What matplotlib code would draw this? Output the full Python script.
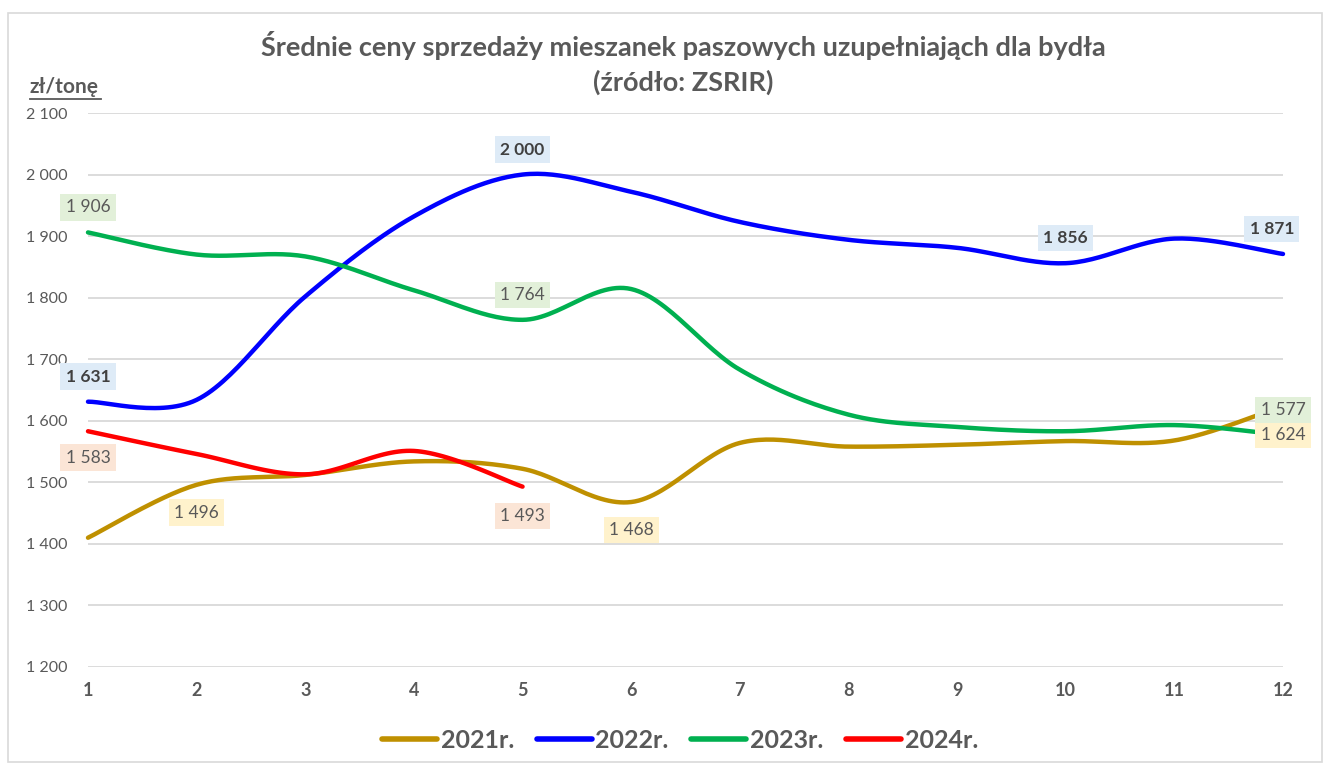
import numpy as np
import matplotlib
matplotlib.use("Agg")
import matplotlib.pyplot as plt
from matplotlib.lines import Line2D
from matplotlib.patches import Rectangle

months = list(range(1, 13))
y2021 = [1410, 1496, 1512, 1534, 1522, 1468, 1564, 1558, 1561, 1567, 1568, 1624]
y2022 = [1631, 1634, 1802, 1932, 2000, 1972, 1923, 1894, 1881, 1856, 1896, 1871]
y2023 = [1906, 1870, 1867, 1812, 1764, 1814, 1683, 1610, 1590, 1583, 1593, 1577]
y2024 = [1583, 1546, 1513, 1551, 1493]
series_names = ["2021r.", "2022r.", "2023r.", "2024r."]
yticks = list(range(1200, 2101, 100))

colors = ["#BF9000", "#0000FF", "#00B050", "#FF0000"]
box_colors = ["#FFF2CC", "#DEEBF7", "#E2F0D9", "#FBE5D6"]

FONT = ["Lato", "DejaVu Sans"]
plt.rcParams['font.family'] = FONT
GRAY = "#595959"


def smooth(xs, ys, n=30):
    xs = np.asarray(xs, float)
    ys = np.asarray(ys, float)
    P = np.column_stack([xs, ys])
    m = len(P)
    out = [P[0]]
    for i in range(m - 1):
        p0 = P[i - 1] if i > 0 else P[i]
        p1 = P[i]
        p2 = P[i + 1]
        p3 = P[i + 2] if i + 2 < m else P[i + 1]
        c1 = p1 + (p2 - p0) / 6.0
        c2 = p2 - (p3 - p1) / 6.0
        t = np.linspace(0, 1, n)[1:, None]
        seg = ((1 - t) ** 3) * p1 + 3 * ((1 - t) ** 2) * t * c1 + 3 * (1 - t) * t ** 2 * c2 + t ** 3 * p2
        out.extend(seg)
    out = np.array(out)
    return out[:, 0], out[:, 1]


def fmt(v):
    return f"{v:,}".replace(",", " ")


W, H = 1326, 767
fig = plt.figure(figsize=(W / 100, H / 100), dpi=100)
fig.patch.set_facecolor("white")

# outer chart border
fig.add_artist(Rectangle((8 / W, 1 - 762 / H), 1314 / W, 749 / H, transform=fig.transFigure,
                         fill=False, edgecolor="#D9D9D9", linewidth=1.2))

ax = fig.add_axes([88 / W, 1 - 667 / H, (1283 - 88) / W, (667 - 113) / H])
ax.set_xlim(1, 12)
ax.set_ylim(1200, 2100)
ax.set_yticks(yticks)
ax.set_yticklabels([fmt(v) for v in yticks], color=GRAY, fontsize=11.5)
ax.set_xticks(months)
ax.set_xticklabels([str(m) for m in months], color=GRAY, fontsize=13, fontweight="bold")
ax.tick_params(axis="both", length=0)
ax.tick_params(axis="y", pad=15)
ax.tick_params(axis="x", pad=11)
for s in ax.spines.values():
    s.set_visible(False)
ax.grid(axis="y", color="#D9D9D9", linewidth=1.3)
ax.set_axisbelow(True)

all_series = [y2021, y2022, y2023, y2024]
handles = []
for vals, c, name in zip(all_series, colors, series_names):
    xs = months[:len(vals)]
    sx, sy = smooth(xs, vals)
    ln, = ax.plot(sx, sy, color=c, linewidth=3.2, solid_capstyle="round", clip_on=False, label=name, zorder=3)
    handles.append(ln)

# data labels: (series index, month index, y offset in points, x offset in points)
labels = [
    (0, 1, -20, 0), (0, 5, -20, 0), (0, 11, -21, 0),
    (1, 0, 18, 0), (1, 4, 18, 0), (1, 9, 18, 0), (1, 11, 18, -8),
    (2, 0, 18, 0), (2, 4, 18, 0), (2, 11, 18, 0),
    (3, 0, -19, 0), (3, 4, -21, 0),
]
for si, mi, dy, dx in labels:
    v = all_series[si][mi]
    bold = si == 1
    ax.annotate(fmt(v), (months[mi], v), xytext=(dx, dy), textcoords="offset points",
                ha="center", va="center", fontsize=12.5,
                fontweight="bold" if bold else "normal",
                color="#404040" if bold else GRAY,
                bbox=dict(boxstyle="square,pad=0.3", facecolor=box_colors[si], edgecolor="none"),
                annotation_clip=False, zorder=5)

fig.text(683 / W, 1 - 46 / H, "Średnie ceny sprzedaży mieszanek paszowych uzupełniająch dla bydła",
         ha="center", va="center", fontsize=19.5, fontweight="bold", color=GRAY)
fig.text(683 / W, 1 - 82 / H, "(źródło: ZSRIR)",
         ha="center", va="center", fontsize=19.5, fontweight="bold", color=GRAY)

fig.text(30 / W, 1 - 87 / H, "zł/tonę", ha="left", va="center", fontsize=15,
         fontweight="bold", color=GRAY)
fig.add_artist(Line2D([30 / W, 101 / W], [1 - 99 / H, 1 - 99 / H], transform=fig.transFigure,
                      color=GRAY, linewidth=1.3))

leg = fig.legend(handles=handles, labels=series_names, loc="center", bbox_to_anchor=(680 / W, 1 - 740 / H),
                 ncol=4, frameon=False, handlelength=2.2, columnspacing=0.9, handletextpad=0.15,
                 prop={"family": FONT, "weight": "bold", "size": 18})
for txt in leg.get_texts():
    txt.set_color(GRAY)
for h in leg.legend_handles:
    h.set_linewidth(4)

fig.savefig("out.png", dpi=100, facecolor="white")
